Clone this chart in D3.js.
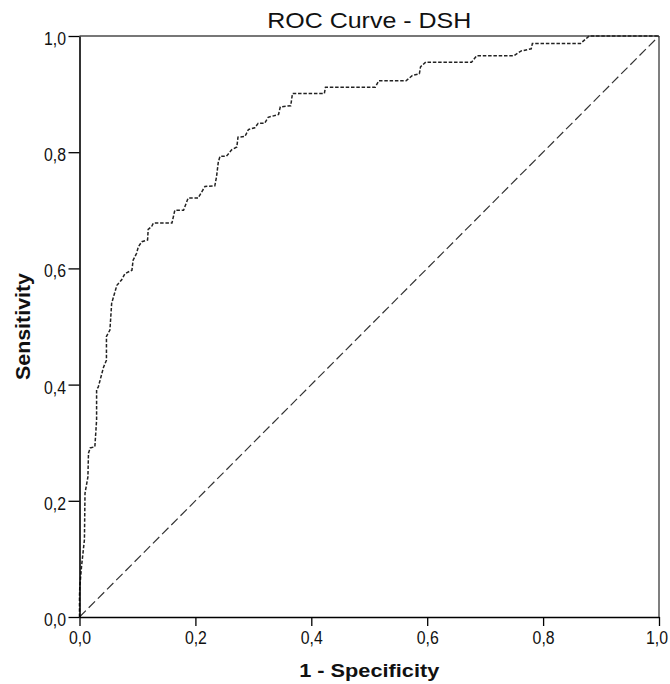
<!DOCTYPE html>
<html><head><meta charset="utf-8">
<script src="https://cdn.jsdelivr.net/npm/d3@7"></script>
<style>body{margin:0;background:#fff}svg{display:block}</style>
</head><body>
<script>
const title = "ROC Curve - DSH";
const xTitle = "1 - Specificity";
const yTitle = "Sensitivity";
const tickValues = [0, 0.2, 0.4, 0.6, 0.8, 1.0];
// ROC curve points (1 - specificity, sensitivity)
const fpr = [0, 0, 0, 0.0005, 0.0035, 0.0085, 0.0095, 0.0145, 0.0155, 0.0185, 0.0265, 0.0295, 0.0295, 0.0325, 0.0415, 0.0465, 0.0465, 0.0525, 0.0555, 0.0645, 0.0725, 0.0785, 0.0905, 0.0925, 0.0985, 0.1015, 0.1075, 0.1175, 0.1185, 0.1245, 0.1275, 0.1595, 0.1645, 0.1795, 0.1875, 0.2045, 0.2165, 0.2335, 0.2365, 0.2395, 0.2425, 0.2535, 0.2625, 0.2715, 0.2735, 0.2855, 0.2915, 0.3025, 0.3085, 0.3195, 0.3255, 0.3435, 0.3465, 0.3645, 0.3675, 0.4225, 0.4245, 0.5105, 0.5165, 0.5635, 0.5745, 0.5865, 0.5885, 0.5975, 0.6765, 0.6855, 0.7495, 0.7615, 0.7795, 0.7815, 0.8645, 0.8795, 1.0];
const tpr = [0, 0.000, 0.035, 0.052, 0.087, 0.133, 0.213, 0.241, 0.282, 0.291, 0.293, 0.339, 0.391, 0.396, 0.430, 0.442, 0.483, 0.494, 0.540, 0.571, 0.580, 0.591, 0.597, 0.614, 0.626, 0.637, 0.646, 0.649, 0.667, 0.672, 0.678, 0.678, 0.700, 0.700, 0.721, 0.721, 0.741, 0.742, 0.758, 0.783, 0.793, 0.793, 0.804, 0.809, 0.826, 0.827, 0.839, 0.842, 0.850, 0.850, 0.860, 0.865, 0.878, 0.880, 0.901, 0.901, 0.912, 0.912, 0.923, 0.923, 0.932, 0.935, 0.947, 0.955, 0.955, 0.966, 0.966, 0.974, 0.978, 0.987, 0.987, 1.0, 1.0];
const refLine = [0, 1];

const W = 670, H = 684;
const m = {left: 79.5, right: 11, top: 36, bottom: 67};
const svg = d3.select("body").append("svg").attr("width", W).attr("height", H);
const x = d3.scaleLinear().domain([0, 1]).range([m.left, W - m.right]);
const y = d3.scaleLinear().domain([0, 1]).range([H - m.bottom, m.top]);
const fmt = d => d3.format(".1f")(d).replace(".", ",");
const font = "'Liberation Sans', Arial, sans-serif";

// top / right frame
svg.append("line").attr("x1", x(0)).attr("x2", x(1)).attr("y1", y(1)).attr("y2", y(1))
  .attr("stroke", "#777").attr("stroke-width", 2);
svg.append("line").attr("x1", x(1)).attr("x2", x(1)).attr("y1", y(1)).attr("y2", y(0))
  .attr("stroke", "#555").attr("stroke-width", 1.5);

// diagonal reference
svg.append("path").datum(refLine)
  .attr("d", d3.line().x(d => x(d)).y(d => y(d)))
  .attr("fill", "none").attr("stroke", "#333").attr("stroke-width", 1.2)
  .attr("stroke-dasharray", "9,4");

// ROC curve
const pts = fpr.map((f, i) => [f, tpr[i]]);
svg.append("path").datum(pts)
  .attr("d", d3.line().x(d => x(d[0])).y(d => y(d[1])))
  .attr("fill", "none").attr("stroke", "#222").attr("stroke-width", 1.5)
  .attr("stroke-dasharray", "3.5,1.8");

// axes
const xAxis = svg.append("g").attr("transform", `translate(0,${y(0)})`)
  .call(d3.axisBottom(x).tickValues(tickValues).tickFormat(fmt).tickSize(9).tickSizeOuter(0));
const yAxis = svg.append("g").attr("transform", `translate(${x(0)},0)`)
  .call(d3.axisLeft(y).tickValues(tickValues).tickFormat(fmt).tickSize(11).tickSizeOuter(0));
[xAxis, yAxis].forEach(g => {
  g.select(".domain").attr("stroke", "#000").attr("stroke-width", 1.6);
  g.selectAll(".tick line").attr("stroke", "#000").attr("stroke-width", 1.3);
  g.selectAll(".tick text").attr("fill", "#111").style("font-family", font).style("font-size", "18px")
    .attr("textLength", 22).attr("lengthAdjust", "spacingAndGlyphs");
});
xAxis.selectAll(".tick text").attr("dy", null).attr("y", 27).attr("x", d => d === 1 ? -2.5 : 0);
yAxis.selectAll(".tick text").attr("x", -13.5).attr("dy", null).attr("y", 8.5);

// titles
svg.append("text").attr("x", x(0.5)).attr("y", 28).attr("text-anchor", "middle")
  .style("font-family", font).style("font-size", "22px").attr("fill", "#111")
  .attr("textLength", 204).attr("lengthAdjust", "spacingAndGlyphs").text(title);
svg.append("text").attr("x", x(0.5)).attr("y", 677).attr("text-anchor", "middle")
  .style("font-family", font).style("font-size", "18px").style("font-weight", "bold").attr("fill", "#111")
  .attr("textLength", 140).attr("lengthAdjust", "spacingAndGlyphs").text(xTitle);
svg.append("text").attr("transform", `translate(30,${(y(0) + y(1)) / 2}) rotate(-90)`).attr("text-anchor", "middle")
  .style("font-family", font).style("font-size", "19.5px").style("font-weight", "bold").attr("fill", "#111")
  .attr("textLength", 107).attr("lengthAdjust", "spacingAndGlyphs").text(yTitle);
</script>
</body></html>
